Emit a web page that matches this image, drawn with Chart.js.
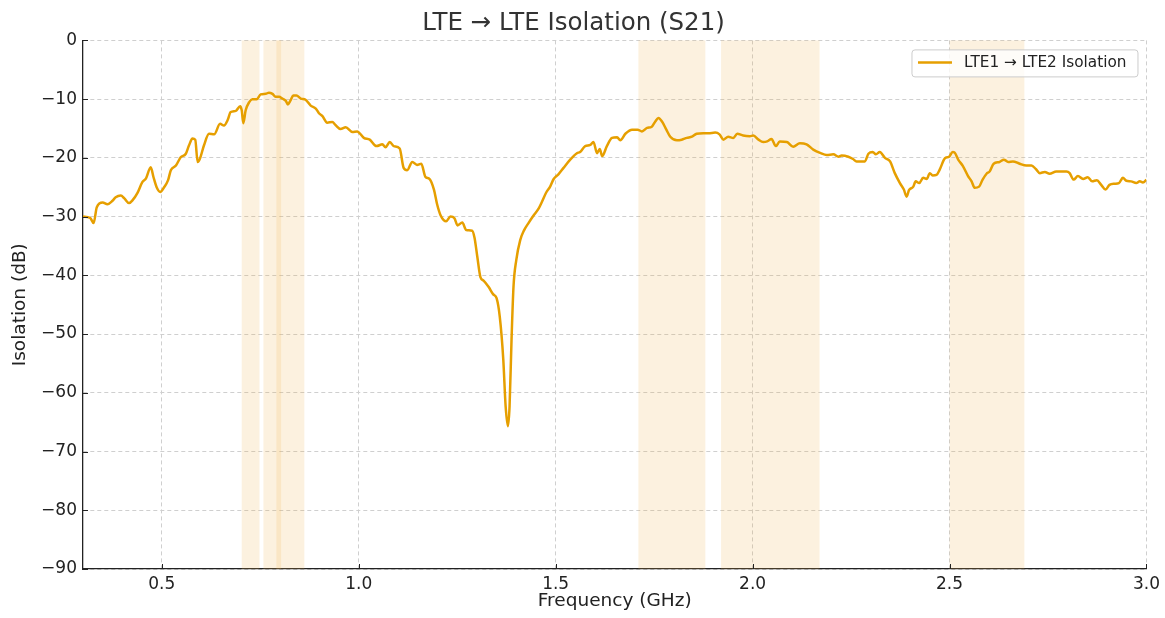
<!DOCTYPE html>
<html lang="en">
<head>
    <meta charset="UTF-8">
    <title>LTE Isolation</title>
    <script src="https://cdn.jsdelivr.net/npm/chart.js"></script>
    <style>
        html, body {
            margin: 0;
            padding: 0;
            background: #fff;
            overflow: hidden;
        }
        #wrap {
            width: 1165px;
            height: 618px;
        }
    </style>
</head>
<body>
    <div id="wrap"><canvas id="isoChart"></canvas></div>

    <script>
        // S21 trace (GHz / dB)
        const freq = [
            0.300, 0.318, 0.327, 0.335, 0.350, 0.362, 0.375, 0.383, 0.396, 0.405,
            0.417, 0.426, 0.438, 0.451, 0.460, 0.472, 0.479, 0.487, 0.496, 0.506,
            0.516, 0.523, 0.536, 0.548, 0.561, 0.569, 0.578, 0.585, 0.591, 0.597,
            0.607, 0.620, 0.633, 0.648, 0.658, 0.667, 0.675, 0.688, 0.699, 0.703,
            0.707, 0.713, 0.722, 0.730, 0.741, 0.751, 0.764, 0.772, 0.781, 0.789,
            0.798, 0.806, 0.815, 0.820, 0.827, 0.834, 0.842, 0.853, 0.865, 0.878,
            0.891, 0.899, 0.908, 0.920, 0.933, 0.941, 0.954, 0.967, 0.984, 0.996,
            1.013, 1.028, 1.045, 1.060, 1.068, 1.079, 1.089, 1.104, 1.114, 1.123,
            1.136, 1.148, 1.159, 1.169, 1.180, 1.191, 1.199, 1.208, 1.222, 1.233,
            1.243, 1.251, 1.263, 1.273, 1.288, 1.294, 1.301, 1.309, 1.317, 1.330,
            1.341, 1.350, 1.358, 1.367, 1.373, 1.379, 1.383, 1.388, 1.393, 1.400,
            1.410, 1.420, 1.431, 1.443, 1.457, 1.465, 1.476, 1.486, 1.495, 1.507,
            1.520, 1.537, 1.554, 1.562, 1.575, 1.588, 1.596, 1.605, 1.612, 1.618,
            1.630, 1.643, 1.656, 1.664, 1.677, 1.694, 1.708, 1.719, 1.732, 1.744,
            1.753, 1.761, 1.770, 1.781, 1.791, 1.808, 1.820, 1.833, 1.846, 1.858,
            1.875, 1.888, 1.905, 1.916, 1.926, 1.938, 1.951, 1.961, 1.976, 1.993,
            2.002, 2.015, 2.027, 2.037, 2.048, 2.059, 2.069, 2.087, 2.103, 2.120,
            2.137, 2.154, 2.173, 2.188, 2.205, 2.218, 2.226, 2.243, 2.255, 2.264,
            2.285, 2.294, 2.305, 2.313, 2.323, 2.336, 2.349, 2.361, 2.374, 2.384,
            2.391, 2.397, 2.408, 2.414, 2.423, 2.433, 2.442, 2.450, 2.457, 2.467,
            2.475, 2.488, 2.499, 2.508, 2.513, 2.522, 2.534, 2.547, 2.556, 2.564,
            2.575, 2.584, 2.594, 2.602, 2.612, 2.627, 2.638, 2.649, 2.661, 2.678,
            2.695, 2.708, 2.719, 2.729, 2.742, 2.754, 2.771, 2.784, 2.797, 2.805,
            2.815, 2.826, 2.839, 2.851, 2.862, 2.874, 2.885, 2.896, 2.906, 2.919,
            2.930, 2.940, 2.949, 2.961, 2.974, 2.983, 2.991, 3.000
        ];
        const isolationDb = [
            -30.0, -30.2, -31.1, -28.4, -27.6, -27.9, -27.3, -26.7, -26.4, -26.9,
            -27.7, -27.2, -26.0, -24.1, -23.5, -21.6, -23.3, -25.0, -25.8, -25.0,
            -23.8, -22.1, -21.3, -19.9, -19.3, -17.9, -16.7, -16.9, -20.7, -20.1,
            -17.9, -15.9, -16.0, -14.2, -14.5, -13.6, -12.2, -12.0, -11.2, -11.9,
            -14.1, -11.9, -10.5, -10.0, -10.0, -9.2, -9.1, -8.9, -9.1, -9.6,
            -9.6, -9.9, -10.3, -10.9, -10.2, -9.4, -9.4, -9.9, -10.1, -11.1,
            -11.6, -12.4, -12.9, -14.0, -13.9, -14.4, -15.1, -14.8, -15.6, -15.5,
            -16.6, -16.9, -18.0, -17.7, -18.2, -17.3, -18.0, -18.4, -21.7, -22.1,
            -20.7, -21.2, -21.0, -23.2, -23.6, -25.4, -27.9, -29.8, -30.8, -30.0,
            -30.3, -31.5, -31.0, -32.3, -32.4, -33.6, -36.8, -40.3, -40.9, -42.0,
            -43.2, -43.9, -47.0, -54.3, -62.3, -65.7, -62.3, -50.9, -41.9, -37.4,
            -34.0, -32.3, -31.1, -29.9, -28.6, -27.5, -25.9, -24.9, -23.6, -22.8,
            -21.7, -20.3, -19.2, -19.0, -18.0, -17.8, -17.3, -19.2, -18.5, -19.7,
            -18.0, -16.6, -16.5, -17.0, -15.9, -15.2, -15.2, -15.5, -14.9, -14.7,
            -13.8, -13.2, -13.8, -15.2, -16.4, -17.0, -16.9, -16.6, -16.4, -15.9,
            -15.8, -15.8, -15.7, -16.0, -16.9, -16.4, -16.6, -15.9, -16.2, -16.3,
            -16.2, -16.9, -17.3, -17.2, -16.8, -18.0, -17.2, -17.3, -18.1, -17.5,
            -17.7, -18.6, -19.2, -19.5, -19.4, -19.8, -19.6, -19.8, -20.2, -20.6,
            -20.6, -19.3, -19.0, -19.4, -19.0, -20.0, -20.6, -22.6, -24.3, -25.4,
            -26.6, -25.5, -24.9, -24.0, -24.3, -23.4, -23.6, -22.6, -23.0, -22.9,
            -22.0, -20.1, -19.8, -19.0, -19.1, -20.3, -21.4, -23.1, -24.0, -25.1,
            -24.9, -23.7, -22.7, -22.3, -21.0, -20.7, -20.3, -20.7, -20.6, -21.0,
            -21.3, -21.3, -21.9, -22.6, -22.4, -22.7, -22.3, -22.3, -22.3, -22.6,
            -23.7, -23.1, -23.6, -23.3, -24.0, -23.8, -24.6, -25.4, -24.6, -24.4,
            -24.3, -23.4, -23.9, -24.0, -24.3, -24.0, -24.2, -23.7
        ];

        // LTE band edges (GHz) shaded behind the trace
        const bandStart = [0.703, 0.758, 0.791, 1.710, 1.920, 2.500];
        const bandEnd   = [0.748, 0.803, 0.862, 1.880, 2.170, 2.690];

        const xTicks = [0.5, 1.0, 1.5, 2.0, 2.5, 3.0];
        const yTicks = [-90, -80, -70, -60, -50, -40, -30, -20, -10, 0];

        const seriesLabel = 'LTE1 \u2192 LTE2 Isolation';
        const lineColor = '#e69f00';
        const fontFamily = "'DejaVu Sans', sans-serif";

        const points = freq.map((f, i) => ({ x: f, y: isolationDb[i] }));

        // shaded bands under the line
        const bandPlugin = {
            id: 'bands',
            beforeDatasetsDraw(chart) {
                const { ctx, chartArea, scales } = chart;
                ctx.save();
                ctx.fillStyle = 'rgba(240, 180, 80, 0.18)';
                for (let i = 0; i < bandStart.length; i++) {
                    const x0 = scales.x.getPixelForValue(bandStart[i]);
                    const x1 = scales.x.getPixelForValue(bandEnd[i]);
                    ctx.fillRect(x0, chartArea.top, x1 - x0, chartArea.bottom - chartArea.top);
                }
                ctx.restore();
            }
        };

        // inward tick marks + legend box in upper right
        const decorPlugin = {
            id: 'decor',
            afterDatasetsDraw(chart) {
                const { ctx, chartArea, scales } = chart;
                ctx.save();
                ctx.strokeStyle = '#222';
                ctx.lineWidth = 1;
                ctx.beginPath();
                yTicks.forEach(v => {
                    const y = Math.round(scales.y.getPixelForValue(v)) + 0.5;
                    ctx.moveTo(chartArea.left, y);
                    ctx.lineTo(chartArea.left + 5, y);
                });
                xTicks.forEach(v => {
                    const x = Math.round(scales.x.getPixelForValue(v)) + 0.5;
                    ctx.moveTo(x, chartArea.bottom);
                    ctx.lineTo(x, chartArea.bottom - 5);
                });
                ctx.stroke();

                // legend
                const bx = chartArea.right - 234.5, by = chartArea.top + 9.5, bw = 226, bh = 27;
                ctx.beginPath();
                ctx.roundRect(bx, by, bw, bh, 3);
                ctx.fillStyle = 'rgba(255, 255, 255, 0.8)';
                ctx.fill();
                ctx.strokeStyle = '#cccccc';
                ctx.stroke();

                ctx.beginPath();
                ctx.strokeStyle = lineColor;
                ctx.lineWidth = 2.5;
                ctx.moveTo(bx + 6, by + 12.5);
                ctx.lineTo(bx + 40, by + 12.5);
                ctx.stroke();

                ctx.fillStyle = '#222';
                ctx.font = '15.3px ' + fontFamily;
                ctx.textBaseline = 'middle';
                ctx.fillText(seriesLabel, bx + 52, by + 13.5);
                ctx.restore();
            }
        };

        const fmtMinus = v => (v < 0 ? '\u2212' + Math.abs(v) : String(v));

        new Chart(document.getElementById('isoChart'), {
            type: 'line',
            data: {
                datasets: [{
                    label: seriesLabel,
                    data: points,
                    borderColor: lineColor,
                    backgroundColor: lineColor,
                    borderWidth: 2.5,
                    pointRadius: 0,
                    cubicInterpolationMode: 'monotone',
                    fill: false
                }]
            },
            options: {
                responsive: true,
                maintainAspectRatio: false,
                animation: false,
                layout: { padding: { left: 0, right: 18, top: 0, bottom: 0 } },
                plugins: {
                    legend: { display: false },
                    tooltip: { enabled: false },
                    title: {
                        display: true,
                        text: 'LTE \u2192 LTE Isolation (S21)',
                        color: '#333',
                        font: { family: fontFamily, size: 24.5, weight: 'normal' },
                        padding: { top: 9, bottom: 2 }
                    }
                },
                scales: {
                    x: {
                        type: 'linear',
                        min: 0.3,
                        max: 3.0,
                        afterBuildTicks: s => { s.ticks = xTicks.map(v => ({ value: v })); },
                        afterFit: s => { s.height = 49; },
                        ticks: {
                            color: '#222',
                            font: { family: fontFamily, size: 17 },
                            padding: 5,
                            maxRotation: 0,
                            callback: v => v.toFixed(1)
                        },
                        grid: {
                            color: '#cfcfcf',
                            lineWidth: 1,
                            drawTicks: false,
                            tickLength: 0
                        },
                        // border.dash dashes the grid lines; the axis line itself stays solid
                        border: { display: true, color: '#222', width: 1.3, dash: [4, 3] },
                        title: {
                            display: true,
                            text: 'Frequency (GHz)',
                            color: '#222',
                            font: { family: fontFamily, size: 18.5 },
                            padding: { top: 0, bottom: 6 }
                        }
                    },
                    y: {
                        min: -90,
                        max: 0,
                        afterBuildTicks: s => { s.ticks = yTicks.map(v => ({ value: v })); },
                        afterFit: s => { s.width = 83; },
                        ticks: {
                            color: '#222',
                            font: { family: fontFamily, size: 17 },
                            padding: 6,
                            callback: v => fmtMinus(v)
                        },
                        grid: {
                            color: '#cfcfcf',
                            lineWidth: 1,
                            drawTicks: false,
                            tickLength: 0
                        },
                        border: { display: true, color: '#222', width: 1.3, dash: [4, 3] },
                        title: {
                            display: true,
                            text: 'Isolation (dB)',
                            color: '#222',
                            font: { family: fontFamily, size: 18.5 },
                            padding: { top: 9, bottom: 0 }
                        }
                    }
                }
            },
            plugins: [bandPlugin, decorPlugin]
        });
    </script>
</body>
</html>
